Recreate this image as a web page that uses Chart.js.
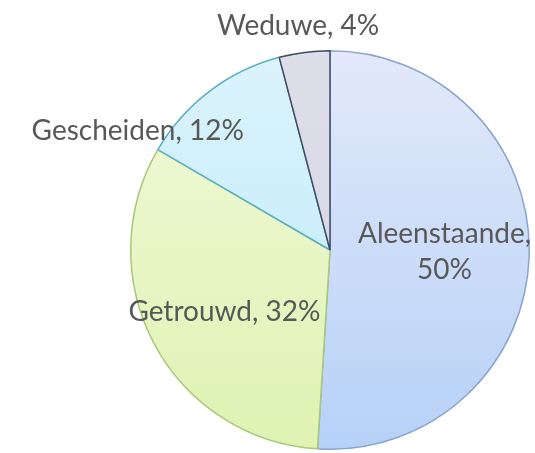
<!DOCTYPE html>
<html>
<head>
<meta charset="utf-8">
<script src="https://cdn.jsdelivr.net/npm/chart.js@4/dist/chart.umd.min.js"></script>
<style>
  html, body { margin: 0; padding: 0; background: #fff; }
  #wrap { width: 535px; height: 453px; }
</style>
</head>
<body>
<div id="wrap"><canvas id="myChart"></canvas></div>
<script>
"use strict";

// categories and values (share of households)
const categories = ['Aleenstaande', 'Getrouwd', 'Gescheiden', 'Weduwe'];
const values = [51, 32.4, 12.5, 4.1];
const percentLabels = ['50%', '32%', '12%', '4%'];

// gradient stops per slice (top -> bottom)
const gradTop = ['#e3e9fa', '#f1f9da', '#dcf3fb', '#dddee8'];
const gradBottom = ['#b6d1f7', '#def3b2', '#b8ebfc', '#d3d5e2'];
const borderColors = ['#8aa3cf', '#a9c878', '#5aaec4', '#3e4964'];

// label placement relative to pie centre, in units of radius
const labelPlace = [
	{ fx: 0.575, fy: 0.01, lines: 2 },
	{ fx: -0.53, fy: 0.31, lines: 1 },
	{ fx: -0.965, fy: -0.595, lines: 1 },
	{ fx: -0.16, fy: -1.125, lines: 1 }
];

const sliceFill = (ctx) => {
	const chart = ctx.chart;
	const area = chart.chartArea;
	if (!area) return gradTop[ctx.dataIndex];
	const g = chart.ctx.createLinearGradient(0, area.top, 0, area.bottom);
	g.addColorStop(0, gradTop[ctx.dataIndex]);
	g.addColorStop(1, gradBottom[ctx.dataIndex]);
	return g;
};

const pieLabels = {
	id: 'pieLabels',
	afterDatasetsDraw(chart) {
		const c = chart.ctx;
		const meta = chart.getDatasetMeta(0);
		c.save();
		c.font = '28px Lato, "Open Sans", sans-serif';
		c.fillStyle = '#585858';
		c.textAlign = 'center';
		c.textBaseline = 'middle';
		meta.data.forEach((arc, i) => {
			const p = labelPlace[i];
			const x = arc.x + arc.outerRadius * p.fx;
			const y = arc.y + arc.outerRadius * p.fy;
			if (p.lines === 2) {
				c.fillText(categories[i] + ',', x, y - 18);
				c.fillText(percentLabels[i], x, y + 18);
			} else {
				c.fillText(categories[i] + ', ' + percentLabels[i], x, y);
			}
		});
		c.restore();
	}
};

const data = {
	labels: categories,
	datasets: [{
		data: values,
		backgroundColor: sliceFill,
		borderColor: borderColors,
		borderWidth: 1.5
	}]
};

const config = {
	type: 'pie',
	data: data,
	options: {
		responsive: true,
		maintainAspectRatio: false,
		animation: false,
		layout: { padding: { top: 50, bottom: 3, left: 130, right: 5 } },
		plugins: {
			legend: { display: false },
			tooltip: { enabled: false }
		}
	},
	plugins: [pieLabels]
};

const myChart = new Chart(document.getElementById('myChart'), config);
</script>
</body>
</html>
